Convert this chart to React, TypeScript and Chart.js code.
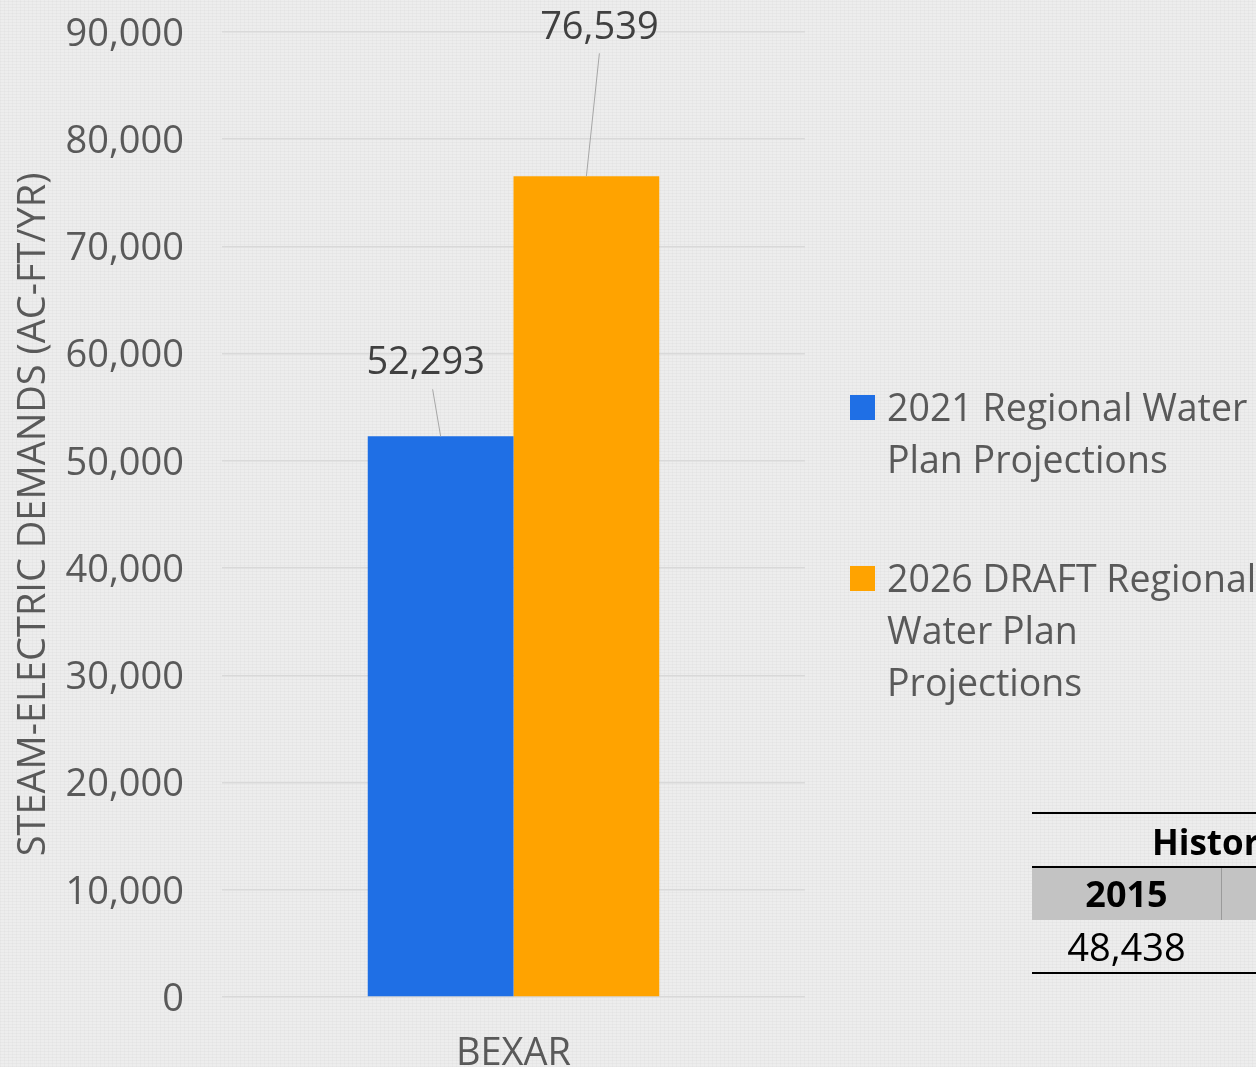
import React, { useEffect, useRef } from "react";
import { Chart, registerables } from "chart.js";

Chart.register(...registerables);

const categories = ["BEXAR"];
const seriesNames = [
  "2021 Regional Water Plan Projections",
  "2026 DRAFT Regional Water Plan Projections",
];
const values2021 = [52293];
const values2026 = [76539];
const yTicks = [0, 10000, 20000, 30000, 40000, 50000, 60000, 70000, 80000, 90000];
const yTitle = "STEAM-ELECTRIC DEMANDS (AC-FT/YR)";
const tableTitle = "Historical Steam-Electric Water Use";
const tableYears = ["2015", "2016"];
const tableValues = ["48,438"];

const COLORS = ["#1f6fe5", "#ffa300"];
const FONT = "'Open Sans', 'Liberation Sans', sans-serif";
const TEXT = "#595959";
// label placement relative to bar top (style, not data)
const LABEL_STYLE = [
  { dx: -15, dy: -73, lx1: -8, ly1: -47 },
  { dx: 13, dy: -148, lx1: 13, ly1: -123 },
];

const fmt = (v: number) => v.toLocaleString("en-US");

const labelPlugin = {
  id: "barLabels",
  afterDatasetsDraw(chart: any) {
    const ctx = chart.ctx;
    chart.data.datasets.forEach((ds: any, i: number) => {
      const meta = chart.getDatasetMeta(i);
      meta.data.forEach((el: any, j: number) => {
        const s = LABEL_STYLE[i];
        const x = el.x;
        const y = el.y;
        ctx.save();
        ctx.strokeStyle = "#a6a6a6";
        ctx.lineWidth = 1;
        ctx.beginPath();
        ctx.moveTo(x + s.lx1, y + s.ly1);
        ctx.lineTo(x, y);
        ctx.stroke();
        ctx.fillStyle = "#404040";
        ctx.font = `38px ${FONT}`;
        ctx.textAlign = "center";
        ctx.textBaseline = "middle";
        ctx.fillText(fmt(ds.data[j]), x + s.dx, y + s.dy);
        ctx.restore();
      });
    });
  },
};

function BarChart() {
  const ref = useRef<HTMLCanvasElement | null>(null);
  useEffect(() => {
    if (!ref.current) return;
    const chart = new Chart(ref.current, {
      type: "bar",
      data: {
        labels: categories,
        datasets: [
          { label: seriesNames[0], data: values2021, backgroundColor: COLORS[0] },
          { label: seriesNames[1], data: values2026, backgroundColor: COLORS[1] },
        ],
      },
      options: {
        animation: false,
        responsive: false,
        maintainAspectRatio: false,
        layout: { padding: { top: 32, right: 451, bottom: 0, left: 0 } },
        datasets: { bar: { categoryPercentage: 0.5, barPercentage: 1.0 } },
        plugins: { legend: { display: false }, tooltip: { enabled: false } },
        scales: {
          x: {
            grid: { display: false },
            border: { display: false },
            ticks: { color: TEXT, font: { family: FONT, size: 38 }, padding: 26 },
            afterFit: (s: any) => { s.height = 70; },
          },
          y: {
            min: 0,
            max: 90000,
            afterBuildTicks: (s: any) => { s.ticks = yTicks.map((v) => ({ value: v })); },
            grid: { color: "#d9d9d9", lineWidth: 1.5, drawTicks: false },
            border: { display: false },
            ticks: {
              color: TEXT,
              font: { family: FONT, size: 38 },
              padding: 38,
              labelOffset: 3,
              callback: (v: any) => fmt(Number(v)),
            },
            title: {
              display: true,
              text: yTitle,
              color: TEXT,
              font: { family: FONT, size: 38 },
              padding: { top: 11, bottom: 0 },
            },
            afterFit: (s: any) => {
              s.width = 222;
              s.paddingTop = 0;
              s.paddingBottom = 0;
            },
          },
        },
      },
      plugins: [labelPlugin],
    });
    return () => chart.destroy();
  }, []);
  return (
    <canvas
      ref={ref}
      width={1256}
      height={1067}
      style={{ position: "absolute", left: 0, top: 0, width: 1256, height: 1067 }}
    />
  );
}

export default function App() {
  useEffect(() => {
    document.body.style.margin = "0";
  }, []);
  const legendText = { fontFamily: FONT, fontSize: 37.5, color: TEXT, lineHeight: "52px" };
  return (
    <div
      style={{
        position: "relative",
        width: 1256,
        height: 1067,
        overflow: "hidden",
        backgroundColor: "#ededed",
        backgroundImage:
          "repeating-linear-gradient(0deg, rgba(0,0,0,0.025) 0px, rgba(0,0,0,0.025) 1px, transparent 1px, transparent 3px), repeating-linear-gradient(90deg, rgba(0,0,0,0.02) 0px, rgba(0,0,0,0.02) 1px, transparent 1px, transparent 4px)",
      }}
    >
      <BarChart />
      {/* legend */}
      <div style={{ position: "absolute", left: 850, top: 381, width: 440 }}>
        <div style={{ position: "relative", height: 104 }}>
          <div style={{ position: "absolute", left: 0, top: 14, width: 25, height: 25, background: COLORS[0] }} />
          <div style={{ ...legendText, position: "absolute", left: 37, top: 0, whiteSpace: "nowrap" }}>
            2021 Regional Water<br />Plan Projections
          </div>
        </div>
        <div style={{ position: "relative", height: 156, marginTop: 67 }}>
          <div style={{ position: "absolute", left: 0, top: 14, width: 25, height: 25, background: COLORS[1] }} />
          <div style={{ ...legendText, position: "absolute", left: 37, top: 0, whiteSpace: "nowrap" }}>
            2026 DRAFT Regional<br />Water Plan<br />Projections
          </div>
        </div>
      </div>
      {/* table */}
      <div style={{ position: "absolute", left: 1032, top: 812, width: 500, fontFamily: FONT }}>
        <div style={{ borderTop: "2px solid #000", height: 52, position: "relative" }}>
          <div style={{ position: "absolute", left: 120, top: 5, fontSize: 35, fontWeight: 700, color: "#000", whiteSpace: "nowrap", lineHeight: "46px" }}>
            {tableTitle}
          </div>
        </div>
        <div style={{ borderTop: "2px solid #000", height: 52, background: "#c3c3c3", display: "flex" }}>
          <div style={{ width: 189, borderRight: "1px solid #9a9a9a", textAlign: "center", fontSize: 36, fontWeight: 700, color: "#000", lineHeight: "52px" }}>
            {tableYears[0]}
          </div>
          <div style={{ width: 189, textAlign: "center", fontSize: 36, fontWeight: 700, color: "#000", lineHeight: "52px" }}>
            {tableYears[1]}
          </div>
        </div>
        <div style={{ height: 52, display: "flex", borderBottom: "2px solid #000" }}>
          <div style={{ width: 189, textAlign: "center", fontSize: 38, color: "#000", lineHeight: "52px" }}>
            {tableValues[0]}
          </div>
        </div>
      </div>
    </div>
  );
}
